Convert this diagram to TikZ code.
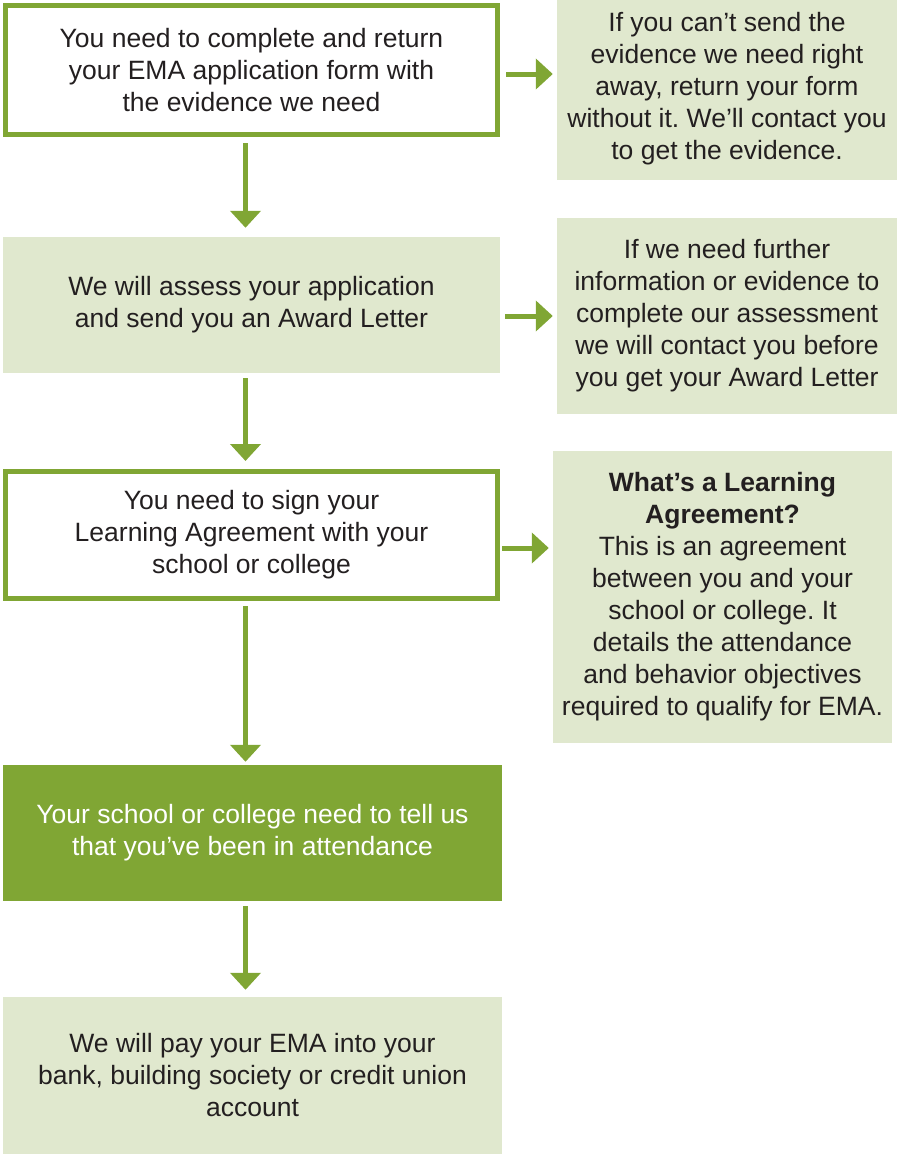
\documentclass[tikz,border=0pt]{standalone}
\usepackage{fontspec}
\setmainfont{Liberation Sans}
\usetikzlibrary{arrows.meta}
\definecolor{emaverde}{HTML}{80A634}
\definecolor{emaclaro}{HTML}{E0E8CE}
\definecolor{ematexto}{HTML}{231F20}
\frenchspacing
\begin{document}
\begin{tikzpicture}[x=1pt,y=1pt,
    paso/.style={align=center, inner sep=0pt, text=ematexto,
        font=\fontsize{26.5}{32}\selectfont},
    borde/.style={paso, draw=emaverde, line width=5pt, fill=white},
    claro/.style={paso, fill=emaclaro},
    oscuro/.style={paso, fill=emaverde, text=white},
    flecha/.style={-{Triangle[width=30pt,length=17pt]}, line width=5pt, emaverde}]
    \useasboundingbox (0,0) rectangle (897,-1154);
    % Pasos principales
    \node[borde, minimum width=492, minimum height=129] (b1) at (251.5,-70)
        {You need to complete and return\\your EMA application form with\\the evidence we need};
    \node[claro, minimum width=497, minimum height=136] (b2) at (251.5,-305)
        {We will assess your application\\and send you an Award Letter};
    \node[borde, minimum width=492, minimum height=127] (b3) at (251.5,-535)
        {You need to sign your\\Learning Agreement with your\\school or college};
    \node[oscuro, minimum width=499, minimum height=136] (b4) at (252.5,-833)
        {Your school or college need to tell us\\that you’ve been in attendance};
    \node[claro, minimum width=499, minimum height=157] (b5) at (252.5,-1075.5)
        {We will pay your EMA into your\\bank, building society or credit union\\account};
    % Notas laterales
    \node[claro, minimum width=340, minimum height=182] (s1) at (727,-89)
        {If you can’t send the\\evidence we need right\\away, return your form\\without it. We’ll contact you\\to get the evidence.};
    \node[claro, minimum width=340, minimum height=196] (s2) at (727,-316)
        {If we need further\\information or evidence to\\complete our assessment\\we will contact you before\\you get your Award Letter};
    \node[claro, minimum width=339, minimum height=292] (s3) at (722.5,-597)
        {\textbf{What’s a Learning}\\\textbf{Agreement?}\\This is an agreement\\between you and your\\school or college. It\\details the attendance\\and behavior objectives\\required to qualify for EMA.};
    % Flechas hacia abajo
    \draw[flecha, shorten <=6pt, shorten >=9pt] ([xshift=-6pt]b1.south) -- ([xshift=-6pt]b1.south |- b2.north);
    \draw[flecha, shorten <=5pt, shorten >=8pt] ([xshift=-6pt]b2.south) -- ([xshift=-6pt]b2.south |- b3.north);
    \draw[flecha, shorten <=5pt, shorten >=3pt] ([xshift=-6pt]b3.south) -- ([xshift=-6pt]b3.south |- b4.north);
    \draw[flecha, shorten <=5pt, shorten >=7pt] ([xshift=-7pt]b4.south) -- ([xshift=-7pt]b4.south |- b5.north);
    % Flechas hacia las notas
    \draw[flecha, shorten <=6pt, shorten >=4pt] (b1.east |- 0,-74) -- (s1.west |- 0,-74);
    \draw[flecha, shorten <=5pt, shorten >=4pt] (b2.east |- 0,-316) -- (s2.west |- 0,-316);
    \draw[flecha, shorten <=2pt, shorten >=4pt] (b3.east |- 0,-548) -- (s3.west |- 0,-548);
\end{tikzpicture}
\end{document}
